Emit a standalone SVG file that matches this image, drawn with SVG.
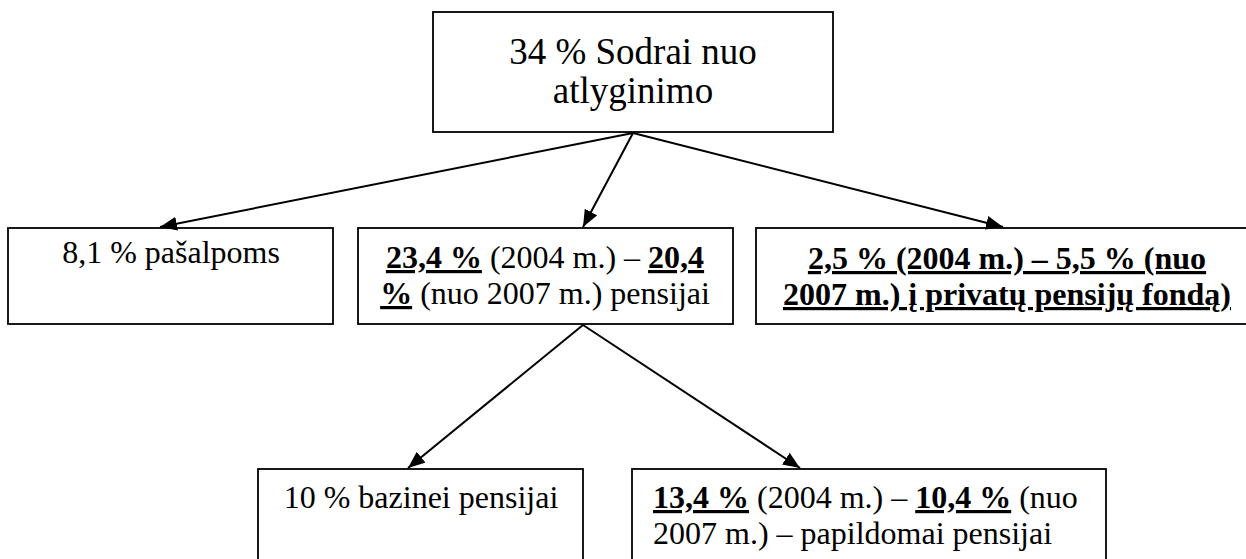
<svg xmlns="http://www.w3.org/2000/svg" width="1246" height="559" viewBox="0 0 1246 559">
<style>
  .box { fill: #ffffff; stroke: #000000; stroke-width: 1.8; }
  .t { font-family: "Liberation Serif", "Times New Roman", serif; font-size: 32px; fill: #000000; }
  .big { font-size: 37px; }
  .bu { font-weight: bold; text-decoration: underline; text-decoration-thickness: 3px; }
  .conn { stroke: #000000; stroke-width: 2; fill: none; marker-end: url(#arr); }
</style>
<defs>
  <marker id="arr" markerUnits="userSpaceOnUse" markerWidth="18" markerHeight="14" refX="17" refY="7" orient="auto">
    <path d="M0,0 L17,7 L0,14 z" fill="#000000"/>
  </marker>
</defs>
<rect width="1246" height="559" fill="#ffffff"/>

<g id="node-top">
  <rect class="box" x="433" y="12" width="400" height="120"/>
  <text class="t big" x="633" y="64" text-anchor="middle">34 % Sodrai nuo</text>
  <text class="t big" x="633" y="103" text-anchor="middle">atlyginimo</text>
</g>

<g id="node-pasalpos">
  <rect class="box" x="8" y="228" width="325" height="96"/>
  <text class="t" x="171" y="263" text-anchor="middle">8,1 % pašalpoms</text>
</g>

<g id="node-pensijai">
  <rect class="box" x="358" y="228" width="375" height="96"/>
  <text class="t" x="545" y="268" text-anchor="middle"><tspan class="bu">23,4 %</tspan> (2004 m.) – <tspan class="bu">20,4</tspan></text>
  <text class="t" x="545" y="304" text-anchor="middle"><tspan class="bu">%</tspan> (nuo 2007 m.) pensijai</text>
</g>

<g id="node-privatus">
  <rect class="box" x="756" y="228" width="502" height="96"/>
  <text class="t bu" x="1007" y="269" text-anchor="middle">2,5 % (2004 m.) – 5,5 % (nuo</text>
  <text class="t bu" x="1007" y="305" text-anchor="middle">2007 m.) į privatų pensijų fondą)</text>
</g>

<g id="node-bazine">
  <rect class="box" x="258" y="469" width="325" height="110"/>
  <text class="t" x="421" y="508" text-anchor="middle">10 % bazinei pensijai</text>
</g>

<g id="node-papildoma">
  <rect class="box" x="632" y="469" width="474" height="110"/>
  <text class="t" x="653" y="508"><tspan class="bu">13,4 %</tspan> (2004 m.) – <tspan class="bu">10,4 %</tspan> (nuo</text>
  <text class="t" x="653" y="544">2007 m.) – papildomai pensijai</text>
</g>

<g id="connectors">
  <line class="conn" x1="633" y1="133" x2="160" y2="227"/>
  <line class="conn" x1="633" y1="133" x2="583" y2="227"/>
  <line class="conn" x1="633" y1="133" x2="1003" y2="227"/>
  <line class="conn" x1="583" y1="325" x2="408" y2="468"/>
  <line class="conn" x1="583" y1="325" x2="800" y2="468"/>
</g>
</svg>
